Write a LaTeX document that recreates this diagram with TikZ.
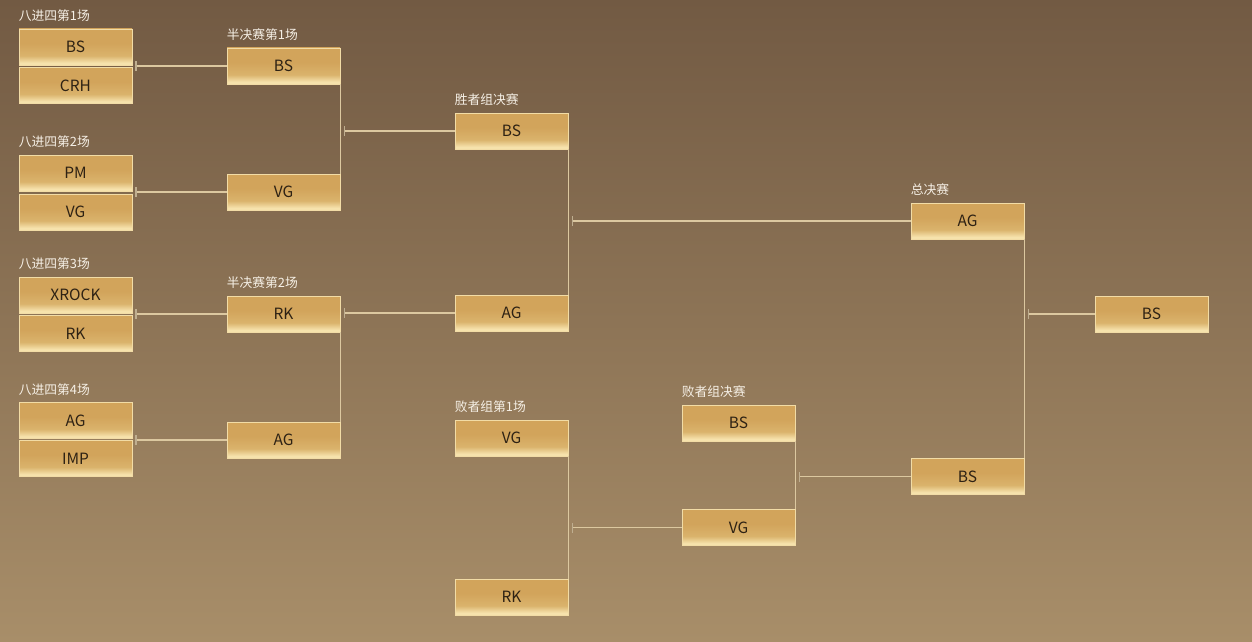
\documentclass[tikz,border=0pt]{standalone}
\usepackage{fontspec}
\setmainfont{Noto Sans CJK SC}
\usetikzlibrary{calc}
\definecolor{bgtop}{HTML}{725A43}
\definecolor{bgmid}{HTML}{8A7253}
\definecolor{bgbot}{HTML}{A88E69}
\definecolor{boxgold}{HTML}{D2A45B}
\definecolor{boxgoldb}{HTML}{DAB36C}
\definecolor{boxlight}{HTML}{F6E2AC}
\definecolor{boxborder}{HTML}{F2DCA6}
\definecolor{teamtext}{HTML}{2E2214}
\definecolor{labeltext}{HTML}{F6F0E6}
\definecolor{connc}{HTML}{DCC8A0}
\definecolor{tickc}{HTML}{BFAE90}
\pgfdeclareverticalshading{boxsh}{100bp}{color(0bp)=(boxlight); color(25bp)=(boxlight); color(28bp)=(boxlight); color(38bp)=(boxgoldb); color(55bp)=(boxgold); color(100bp)=(boxgold)}
\tikzset{
  team/.style={draw=boxborder, line width=0.9pt, shading=boxsh, minimum width=113pt, minimum height=36pt, inner sep=0pt, font=\fontsize{15.5}{17}\selectfont, text=teamtext},
  lbl/.style={anchor=base west, inner sep=0pt, font=\fontsize{12.8}{14}\selectfont, text=labeltext},
  conn/.style={draw=connc, line width=1.2pt},
  tk/.style={draw=tickc, line width=1.4pt}
}
\begin{document}
\begin{tikzpicture}[x=1pt,y=-1pt]
\useasboundingbox (0,0) rectangle (1252,642);
\shade[top color=bgtop, middle color=bgmid, bottom color=bgbot] (0,0) rectangle (1252,642);

% quarterfinals
\node[team] (q1a) at (75.5,47) {BS};
\node[team] (q1b) at (75.5,85.5) {CRH};
\node[team] (q2a) at (75.5,173) {PM};
\node[team] (q2b) at (75.5,212) {VG};
\node[team] (q3a) at (75.5,295) {XROCK};
\node[team] (q3b) at (75.5,333.5) {RK};
\node[team] (q4a) at (75.5,420.5) {AG};
\node[team] (q4b) at (75.5,458.5) {IMP};
% semifinals
\node[team] (s1) at (283.5,66) {BS};
\node[team] (s2) at (283.5,192) {VG};
\node[team] (s3) at (283.5,314) {RK};
\node[team] (s4) at (283.5,440) {AG};
% winners final
\node[team] (w1) at (511.5,131) {BS};
\node[team] (w2) at (511.5,313) {AG};
% losers round 1
\node[team] (l1) at (511.5,438) {VG};
\node[team] (l2) at (511.5,597) {RK};
% losers final
\node[team] (f1) at (738.5,423) {BS};
\node[team] (f2) at (738.5,527.5) {VG};
% grand final
\node[team] (g1) at (967.5,221) {AG};
\node[team] (g2) at (967.5,476.5) {BS};
% champion
\node[team] (ch) at (1151.5,314) {BS};

% labels
\node[lbl] (lq1) at ([yshift=8pt]q1a.north west) {八进四第1场};
\node[lbl] (lq2) at ([yshift=8pt]q2a.north west) {八进四第2场};
\node[lbl] (lq3) at ([yshift=8pt]q3a.north west) {八进四第3场};
\node[lbl] (lq4) at ([yshift=8pt]q4a.north west) {八进四第4场};
\node[lbl] (ls1) at ([yshift=8pt]s1.north west) {半决赛第1场};
\node[lbl] (ls3) at ([yshift=8pt]s3.north west) {半决赛第2场};
\node[lbl] (lw1) at ([yshift=8pt]w1.north west) {胜者组决赛};
\node[lbl] (ll1) at ([yshift=8pt]l1.north west) {败者组第1场};
\node[lbl] (lf1) at ([yshift=8pt]f1.north west) {败者组决赛};
\node[lbl] (lg1) at ([yshift=8pt]g1.north west) {总决赛};

% tick coordinates
\coordinate (tq1) at ([xshift=3.5pt]s1.west -| q1a.east);
\coordinate (tq2) at ([xshift=3.5pt]s2.west -| q2a.east);
\coordinate (tq3) at ([xshift=3.5pt]s3.west -| q3a.east);
\coordinate (tq4) at ([xshift=3.5pt]s4.west -| q4a.east);
\coordinate (ts1) at ([xshift=4pt]w1.west -| s1.east);
\coordinate (ts3) at ([xshift=4pt]w2.west -| s3.east);
\coordinate (tw) at ([xshift=4pt]g1.west -| w1.east);
\coordinate (tl) at ([xshift=4pt]f2.west -| l1.east);
\coordinate (tf) at ([xshift=4pt]g2.west -| f1.east);
\coordinate (tg) at ([xshift=4pt]ch.west -| g1.east);

% verticals
\draw[conn] (s1.south east) -- (s2.north east);
\draw[conn] (s3.south east) -- (s4.north east);
\draw[conn] (w1.south east) -- (w2.north east);
\draw[conn] (l1.south east) -- (l2.north east);
\draw[conn] (f1.south east) -- (f2.north east);
\draw[conn] (g1.south east) -- (g2.north east);

% horizontals
\draw[conn] (tq1) -- (s1.west);
\draw[conn] (tq2) -- (s2.west);
\draw[conn] (tq3) -- (s3.west);
\draw[conn] (tq4) -- (s4.west);
\draw[conn] (ts1) -- (w1.west);
\draw[conn] (ts3) -- (w2.west);
\draw[conn] (tw) -- (g1.west);
\draw[conn] (tl) -- (f2.west);
\draw[conn] (tf) -- (g2.west);
\draw[conn] (tg) -- (ch.west);

% ticks
\foreach \t in {tq1,tq2,tq3,tq4,ts1,ts3,tw,tl,tf,tg}
  \draw[tk] ([yshift=-5pt]\t) -- ([yshift=5pt]\t);
\end{tikzpicture}
\end{document}
